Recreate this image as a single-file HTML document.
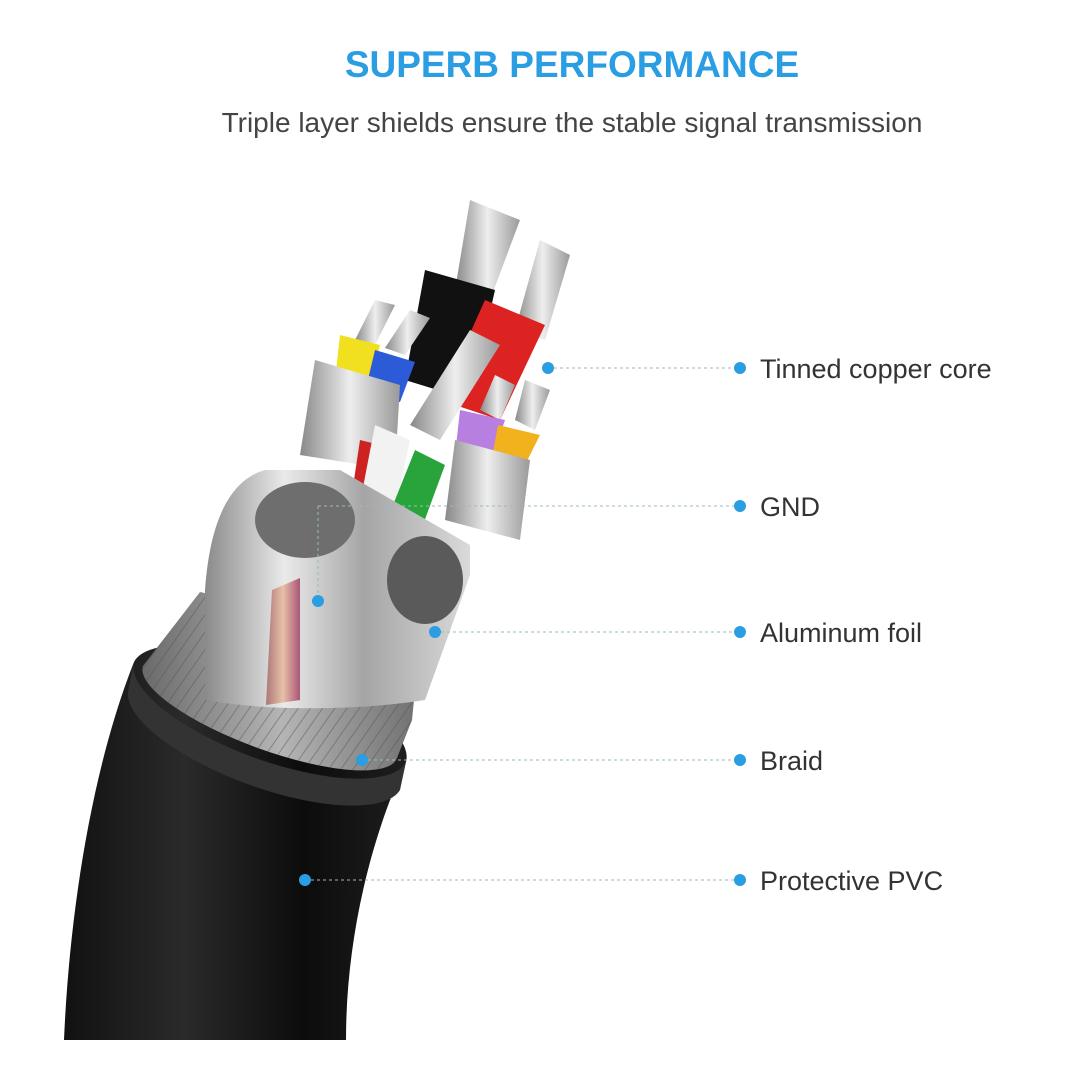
<!DOCTYPE html>
<html><head><style>
body{margin:0;background:#fff;width:1066px;height:1066px;overflow:hidden;font-family:"Liberation Sans",sans-serif}
</style></head><body>
<svg width="1066" height="1066" viewBox="0 0 1066 1066" xmlns="http://www.w3.org/2000/svg">
<defs>
<linearGradient id="jk" x1="0" x2="1"><stop offset="0" stop-color="#111"/><stop offset="0.35" stop-color="#2a2a2a"/><stop offset="0.7" stop-color="#0c0c0c"/><stop offset="1" stop-color="#1e1e1e"/></linearGradient>
<linearGradient id="fo" x1="0" x2="1"><stop offset="0" stop-color="#8a8a8a"/><stop offset="0.3" stop-color="#eaeaea"/><stop offset="0.6" stop-color="#a5a5a5"/><stop offset="1" stop-color="#dadada"/></linearGradient>
<linearGradient id="br" x1="0" x2="1"><stop offset="0" stop-color="#6a6a6a"/><stop offset="0.5" stop-color="#b5b5b5"/><stop offset="1" stop-color="#707070"/></linearGradient>
<linearGradient id="cu" x1="0" x2="1"><stop offset="0" stop-color="#a77"/><stop offset="0.5" stop-color="#e8c0a8"/><stop offset="1" stop-color="#a57"/></linearGradient>
<linearGradient id="st" x1="0" x2="1"><stop offset="0" stop-color="#888"/><stop offset="0.5" stop-color="#eee"/><stop offset="1" stop-color="#999"/></linearGradient>
<pattern id="bp" width="10" height="10" patternUnits="userSpaceOnUse" patternTransform="rotate(35)"><rect width="10" height="10" fill="none"/><line x1="0" y1="0" x2="0" y2="10" stroke="#555" stroke-width="2" opacity="0.5"/></pattern>
</defs>
<text x="572" y="77" text-anchor="middle" font-size="37" font-weight="bold" fill="#2a9de3">SUPERB PERFORMANCE</text>
<text x="572" y="132" text-anchor="middle" font-size="28" fill="#444">Triple layer shields ensure the stable signal transmission</text>

<!-- wires top -->
<path d="M470,200 L520,220 L490,300 L455,290 Z" fill="url(#st)"/>
<path d="M540,240 L570,255 L545,340 L515,330 Z" fill="url(#st)"/>
<path d="M425,270 L495,290 L470,400 L405,380 Z" fill="#111"/>
<path d="M485,300 L545,325 L500,420 L440,400 Z" fill="#d22"/>
<path d="M470,330 L500,345 L440,440 L410,425 Z" fill="url(#st)"/>
<path d="M375,300 L395,305 L375,345 L355,340 Z" fill="url(#st)"/>
<path d="M340,335 L380,345 L370,390 L335,380 Z" fill="#f0e020"/>
<path d="M410,310 L430,318 L405,355 L385,348 Z" fill="url(#st)"/>
<path d="M375,350 L415,362 L400,402 L365,392 Z" fill="#2c5bd8"/>
<path d="M315,360 L400,385 L395,470 L300,455 Z" fill="url(#st)"/>
<path d="M495,375 L515,385 L500,420 L480,410 Z" fill="url(#st)"/>
<path d="M525,380 L550,390 L535,430 L515,420 Z" fill="url(#st)"/>
<path d="M460,410 L505,420 L490,465 L455,455 Z" fill="#b77fe0"/>
<path d="M498,425 L540,435 L525,465 L492,458 Z" fill="#f2b21e"/>
<path d="M455,440 L530,460 L520,540 L445,520 Z" fill="url(#st)"/>
<path d="M360,440 L400,450 L380,560 L345,540 Z" fill="#c22"/>
<path d="M375,425 L410,440 L385,560 L350,555 Z" fill="#f2f2f2"/>
<path d="M415,450 L445,465 L410,560 L375,550 Z" fill="#28a43a"/>

<!-- jacket body -->
<path d="M134,662 A145,50 20 0 1 406,762 C370,840 346,940 346,1040 L64,1040 C70,900 95,760 134,662 Z" fill="url(#jk)"/>
<!-- braid -->
<path d="M143,666 L200,592 L420,640 L412,720 L397,758 A135,38 20 0 1 143,666 Z" fill="url(#br)"/>
<path d="M143,666 L200,592 L420,640 L412,720 L397,758 A135,38 20 0 1 143,666 Z" fill="url(#bp)"/>
<!-- foil -->
<path d="M205,700 L205,590 C210,520 230,480 265,470 L340,470 L470,545 L470,575 L425,700 C350,712 260,710 205,700 Z" fill="url(#fo)"/>
<ellipse cx="305" cy="520" rx="50" ry="38" fill="#6e6e6e"/>
<ellipse cx="425" cy="580" rx="38" ry="44" fill="#5a5a5a"/>
<path d="M272,590 L300,578 L300,700 L266,705 Z" fill="url(#cu)"/>
<!-- jacket front rim -->
<path d="M134,662 A145,50 20 0 0 406,762 L400,790 A145,50 20 0 1 128,692 Z" fill="#333"/>

<g stroke="#9bb" stroke-width="1" stroke-dasharray="3,3">
<line x1="548" y1="368" x2="740" y2="368"/>
<line x1="318" y1="506" x2="740" y2="506"/>
<line x1="318" y1="506" x2="318" y2="598"/>
<line x1="435" y1="632" x2="740" y2="632"/>
<line x1="362" y1="760" x2="740" y2="760"/>
<line x1="305" y1="880" x2="740" y2="880"/>
</g>
<g fill="#2a9de3">
<circle cx="548" cy="368" r="6"/><circle cx="740" cy="368" r="6"/>
<circle cx="740" cy="506" r="6"/><circle cx="318" cy="601" r="6"/>
<circle cx="435" cy="632" r="6"/><circle cx="740" cy="632" r="6"/>
<circle cx="362" cy="760" r="6"/><circle cx="740" cy="760" r="6"/>
<circle cx="305" cy="880" r="6"/><circle cx="740" cy="880" r="6"/>
</g>
<g font-size="27" fill="#333">
<text x="760" y="378">Tinned copper core</text>
<text x="760" y="516">GND</text>
<text x="760" y="642">Aluminum foil</text>
<text x="760" y="770">Braid</text>
<text x="760" y="890">Protective PVC</text>
</g>
</svg>
</body></html>
